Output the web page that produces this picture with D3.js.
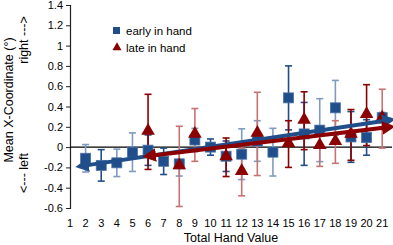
<!DOCTYPE html>
<html>
<head>
<meta charset="utf-8">
<script src="https://cdnjs.cloudflare.com/ajax/libs/d3/7.8.5/d3.min.js"></script>
<style>
  body { margin: 0; background: #fff; }
  text { font-family: "Liberation Sans", Arial, sans-serif; fill: #000; }
</style>
</head>
<body>
<div id="chart"></div>
<script>
// hand totals on the x axis
var totals = d3.range(1, 22);

// early in hand (blue squares)
var earlyX   = [2, 3, 4, 5, 6, 7, 8, 9, 10, 11, 12, 13, 14, 15, 16, 17, 18, 19, 20, 21];
var earlyY   = [-0.11, -0.18, -0.155, -0.05, -0.03, -0.14, -0.165, 0.07, 0.0, -0.09, -0.07, 0.06, -0.05, 0.485, 0.13, 0.167, 0.387, 0.1, 0.095, 0.29];
var earlyErr = [0.135, 0.155, 0.135, 0.19, 0.15, 0.13, 0.12, 0.115, 0.08, 0.15, 0.25, 0.2, 0.235, 0.315, 0.31, 0.31, 0.27, 0.25, 0.175, 0.05];

// late in hand (red triangles)
var lateX   = [6, 8, 9, 11, 12, 13, 15, 16, 17, 18, 19, 20, 21];
var lateY   = [0.15, -0.19, 0.12, -0.1, -0.245, 0.13, 0.03, 0.26, 0.01, 0.05, 0.12, 0.315, 0.28];
var lateErr = [0.37, 0.395, 0.26, 0.19, 0.235, 0.41, 0.23, 0.285, 0.2, 0.21, 0.25, 0.3, 0.29];

// trend arrows: [x start, x end], [y start, y end]
var earlyTrendX = [1.6, 21.6], earlyTrendY = [-0.19, 0.27];
var lateTrendX  = [5.9, 21.6], lateTrendY  = [-0.09, 0.2];

var yTicks = [-0.6, -0.4, -0.2, 0, 0.2, 0.4, 0.6, 0.8, 1, 1.2, 1.4];

// error bars drawn in the lighter shade
var earlyLight = [2, 4, 5, 8, 9, 12, 13, 14, 17, 18];
var lateLight  = [8, 9, 12, 13, 17, 18, 21];

var width = 393, height = 245;
var blue = "#1f4e8a", blueLight = "#7f9bc2";
var red = "#8b0000", redLight = "#c87272";

var svg = d3.select("#chart").append("svg")
  .attr("width", width).attr("height", height);

var x = d3.scaleLinear().domain([1, 21.5]).range([70, 390]);
var y = d3.scaleLinear().domain([-0.6, 1.4]).range([208, 5]);

// y axis
var yAxis = svg.append("g")
  .attr("transform", "translate(70,0)")
  .call(d3.axisLeft(y).tickValues(yTicks).tickSize(4).tickPadding(3)
    .tickFormat(function(d) { return String(+d.toFixed(1)); }));
yAxis.select(".domain").attr("stroke", "#222").attr("stroke-width", 1.2);
yAxis.selectAll(".tick line").attr("stroke", "#222");
yAxis.selectAll("text").style("font-size", "11px");

// x labels
svg.append("g").selectAll("text")
  .data(totals).enter().append("text")
  .attr("x", function(d) { return x(d); })
  .attr("y", 227)
  .attr("text-anchor", "middle")
  .style("font-size", "11px")
  .text(function(d) { return d; });

// zero line
svg.append("line")
  .attr("x1", x(1)).attr("x2", 392)
  .attr("y1", y(0)).attr("y2", y(0))
  .attr("stroke", "#000").attr("stroke-width", 1.3);

function errorBars(xs, ys, errs, light, dark, lite) {
  var g = svg.append("g");
  xs.forEach(function(t, i) {
    var c = light.indexOf(t) >= 0 ? lite : dark;
    var cx = x(t), y0 = y(ys[i] - errs[i]), y1 = y(ys[i] + errs[i]);
    g.append("line").attr("x1", cx).attr("x2", cx).attr("y1", y0).attr("y2", y1)
      .attr("stroke", c).attr("stroke-width", 1.6);
    [y0, y1].forEach(function(yy) {
      g.append("line").attr("x1", cx - 3.5).attr("x2", cx + 3.5).attr("y1", yy).attr("y2", yy)
        .attr("stroke", c).attr("stroke-width", 1.6);
    });
  });
}

errorBars(earlyX, earlyY, earlyErr, earlyLight, blue, blueLight);
errorBars(lateX, lateY, lateErr, lateLight, red, redLight);

// markers
svg.append("g").selectAll("rect")
  .data(earlyX).enter().append("rect")
  .attr("x", function(d) { return x(d) - 5; })
  .attr("y", function(d, i) { return y(earlyY[i]) - 5; })
  .attr("width", 10).attr("height", 10)
  .attr("fill", blue).attr("stroke", "#4a72a8").attr("stroke-width", 0.8);

var tri = d3.symbol().type(d3.symbolTriangle).size(80);
svg.append("g").selectAll("path")
  .data(lateX).enter().append("path")
  .attr("d", tri)
  .attr("transform", function(d, i) { return "translate(" + x(d) + "," + (y(lateY[i]) - 1) + ")"; })
  .attr("fill", red);

// trend arrows
var defs = svg.append("defs");
function marker(id, col) {
  defs.append("marker").attr("id", id)
    .attr("viewBox", "0 0 10 10").attr("refX", 7).attr("refY", 5)
    .attr("markerWidth", 3.4).attr("markerHeight", 3.4)
    .attr("orient", "auto-start-reverse")
    .append("path").attr("d", "M0,0 L10,5 L0,10 z").attr("fill", col);
}
marker("arrB", blue);
marker("arrR", red);

function trend(xs, ys, col, id) {
  svg.append("line")
    .attr("x1", x(xs[0])).attr("y1", y(ys[0]))
    .attr("x2", x(xs[1])).attr("y2", y(ys[1]))
    .attr("stroke", col).attr("stroke-width", 4)
    .attr("marker-start", "url(#" + id + ")")
    .attr("marker-end", "url(#" + id + ")");
}
trend(earlyTrendX, earlyTrendY, blue, "arrB");
trend(lateTrendX, lateTrendY, red, "arrR");

// legend
svg.append("rect").attr("x", 113).attr("y", 27).attr("width", 7).attr("height", 7).attr("fill", blue);
svg.append("text").attr("x", 126).attr("y", 35).style("font-size", "11.5px").text("early in hand");
svg.append("path").attr("d", d3.symbol().type(d3.symbolTriangle).size(36))
  .attr("transform", "translate(117,47.5)").attr("fill", red);
svg.append("text").attr("x", 126).attr("y", 51.5).style("font-size", "11.5px").text("late in hand");

// axis titles
svg.append("text").attr("x", 231).attr("y", 242).attr("text-anchor", "middle")
  .style("font-size", "12.5px").text("Total Hand Value");
svg.append("text").attr("transform", "translate(13,100) rotate(-90)")
  .attr("text-anchor", "middle").style("font-size", "12.5px").text("Mean X-Coordinate (°)");
svg.append("text").attr("transform", "translate(28,40) rotate(-90)")
  .attr("text-anchor", "middle").style("font-size", "12.5px").text("right --->");
svg.append("text").attr("transform", "translate(28,173) rotate(-90)")
  .attr("text-anchor", "middle").style("font-size", "12.5px").text("<--- left");
</script>
</body>
</html>
